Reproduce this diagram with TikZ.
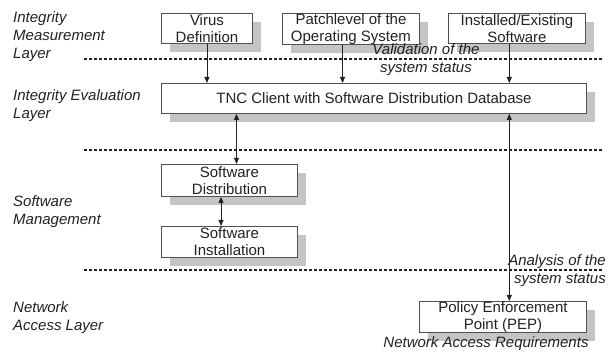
\documentclass[tikz,border=0pt]{standalone}
\usepackage{fontspec}
\setmainfont{Liberation Sans}
\usetikzlibrary{arrows.meta,shadows}
\definecolor{boxline}{HTML}{505050}
\definecolor{shade}{HTML}{C4C4C4}
\definecolor{ink}{HTML}{222222}
\begin{document}
\begin{tikzpicture}[x=1pt,y=-1pt,
  box/.style={draw=boxline, line width=0.9pt, fill=white, inner sep=0pt, align=center,
    font=\fontsize{15}{17}\selectfont, text=ink, anchor=north west,
    drop shadow={shadow xshift=9pt, shadow yshift=-9pt, fill=shade, opacity=1}},
  lab/.style={font=\itshape\fontsize{15}{18}\selectfont, align=left, anchor=north west, inner sep=0pt, text=ink},
  note/.style={font=\itshape\fontsize{15}{18}\selectfont, inner sep=0pt, text=ink},
  sep/.style={draw=ink, line width=1.8pt, dash pattern=on 3pt off 2pt},
  arr/.style={draw=ink, line width=0.8pt, -{Triangle[length=6pt,width=5pt]}},
  darr/.style={draw=ink, line width=0.8pt, {Triangle[length=6pt,width=5pt]}-{Triangle[length=6pt,width=5pt]}}
]
\fill[white] (0,0) rectangle (616,352);
\useasboundingbox (0,0) rectangle (616,352);

% separators
\coordinate (s1a) at (84,59);  \coordinate (s1b) at (603,59);
\coordinate (s2a) at (84,150); \coordinate (s2b) at (603,150);
\coordinate (s3a) at (84,270); \coordinate (s3b) at (603,270);
\draw[sep] (s1a) -- (s1b);
\draw[sep] (s2a) -- (s2b);
\draw[sep] (s3a) -- (s3b);

% boxes
\node[box, minimum width=91pt, minimum height=30pt] (virus) at (161,13) {Virus\\Definition};
\node[box, minimum width=137pt, minimum height=30pt] (patch) at (282,13) {Patchlevel of the\\Operating System};
\node[box, minimum width=137pt, minimum height=30pt] (inst) at (448,13) {Installed/Existing\\Software};
\node[box, minimum width=425pt, minimum height=30pt] (tnc) at (161,83) {TNC Client with Software Distribution Database};
\node[box, minimum width=136pt, minimum height=32pt] (dist) at (161,164) {Software\\Distribution};
\node[box, minimum width=136pt, minimum height=31pt] (sinst) at (161,226) {Software\\Installation};
\node[box, minimum width=167pt, minimum height=31pt] (pep) at (419,301) {Policy Enforcement\\Point (PEP)};

% left layer labels
\node[lab] (l1) at (13,11.5) {Integrity\\Measurement\\Layer};
\node[lab] (l2) at (13,89) {Integrity Evaluation\\Layer};
\node[lab] (l3) at (13,195) {Software\\Management};
\node[lab] (l4) at (13,301.5) {Network\\Access Layer};

% notes
\node[note, align=center] (val) at (426,59.5) {Validation of the\\system status};
\node[note, align=right, anchor=east] (ana) at (606,270.5) {Analysis of the\\system status};
\node[note] (nar) at (486,344) {Network Access Requirements};

% connectors
\coordinate (xp) at (342.5,0);
\coordinate (xi) at (509.3,0);
\coordinate (xd) at (236.5,0);
\coordinate (xs) at (221,0);
\draw[arr] (virus.south) -- (virus.south |- tnc.north);
\draw[arr] (patch.south -| xp) -- (tnc.north -| xp);
\draw[arr] (inst.south -| xi) -- (tnc.north -| xi);
\draw[darr] (tnc.south -| xd) -- (dist.north -| xd);
\draw[darr] (dist.south -| xs) -- (sinst.north -| xs);
\draw[darr] (tnc.south -| xi) -- (pep.north -| xi);
\end{tikzpicture}
\end{document}
